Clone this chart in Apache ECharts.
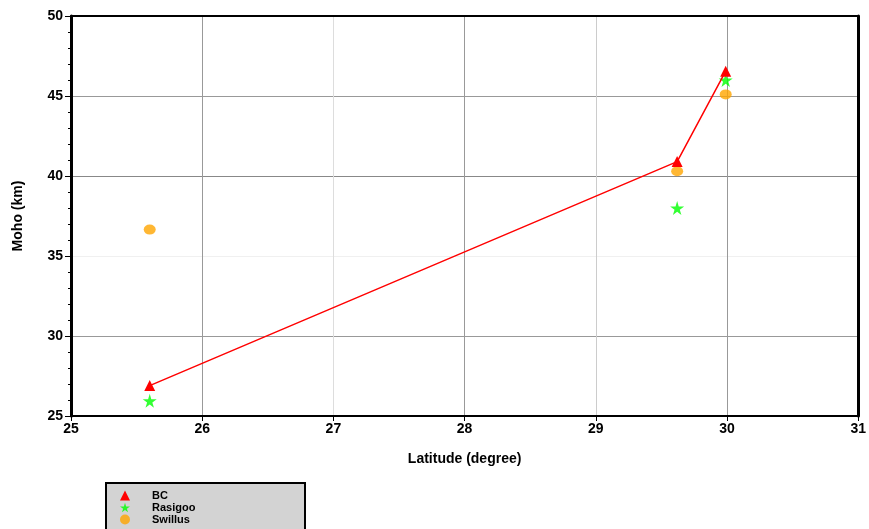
<!DOCTYPE html>
<html><head><meta charset="utf-8">
<script src="https://cdn.jsdelivr.net/npm/echarts@6/dist/echarts.min.js"></script>
<style>html,body{margin:0;padding:0;background:#fff}#c{width:869px;height:529px}</style>
</head><body><div id="c"></div>
<script>
const latitudes = [25.6, 29.62, 29.99];
const bcMoho = [26.9, 40.9, 46.55];
const rasigooMoho = [25.95, 38.0, 46.0];
const swillusMoho = [36.65, 40.3, 45.1];
const xTicks = [25, 26, 27, 28, 29, 30, 31];
const yTicks = [25, 30, 35, 40, 45, 50];

const pair = (xs, ys) => xs.map((x, i) => [x, ys[i]]);
const font = 'Liberation Sans';
const starPath = 'path://M50,0 L61,35 L98,35 L68,57 L79,91 L50,70 L21,91 L32,57 L2,35 L39,35 Z';
const chart = echarts.init(document.getElementById('c'));
chart.setOption({
  animation: false,
  grid: {left: 71, right: 8, top: 16, bottom: 113},
  graphic: [{
    type: 'rect', left: 105, top: 482, z: 0,
    shape: {width: 199, height: 60},
    style: {fill: '#d3d3d3', stroke: '#000', lineWidth: 2}
  }],
  legend: {
    orient: 'vertical', left: 120, top: 490, height: 60, width: 180,
    itemGap: 1, itemWidth: 10, itemHeight: 10, padding: 0,
    textStyle: {fontFamily: font, fontWeight: 'bold', fontSize: 11, color: '#000', padding: [0,0,0,17]},
    data: [{name: 'BC', icon: 'triangle'}, {name: 'Rasigoo', icon: starPath}, {name: 'Swillus', icon: 'circle'}]
  },
  xAxis: [{
    type: 'value', min: xTicks[0], max: xTicks[xTicks.length-1], interval: 1,
    name: 'Latitude (degree)', nameLocation: 'middle', nameGap: 36,
    nameTextStyle: {fontFamily: font, fontWeight: 'bold', fontSize: 14, color: '#000'},
    axisLine: {lineStyle: {color: '#000', width: 2}},
    axisTick: {length: 5, lineStyle: {color: '#000'}},
    axisLabel: {fontFamily: font, fontWeight: 'bold', fontSize: 14, color: '#000', margin: 6},
    splitLine: {show: true, lineStyle: {color: ['#999','#999','#ddd','#999','#ccc','#999','#999'], width: 1}}
  }, {
    type: 'value', position: 'top', min: 25, max: 31, interval: 1,
    axisLine: {lineStyle: {color: '#000', width: 2}},
    axisTick: {show: false}, axisLabel: {show: false}, splitLine: {show: false}
  }],
  yAxis: [{
    type: 'value', min: yTicks[0], max: yTicks[yTicks.length-1], interval: 5,
    name: 'Moho (km)', nameLocation: 'middle', nameGap: 46,
    nameTextStyle: {fontFamily: font, fontWeight: 'bold', fontSize: 14, color: '#000'},
    axisLine: {lineStyle: {color: '#000', width: 3}},
    axisTick: {length: 6, lineStyle: {color: '#000'}},
    minorTick: {show: true, splitNumber: 5, length: 3, lineStyle: {color: '#000'}},
    axisLabel: {fontFamily: font, fontWeight: 'bold', fontSize: 14, color: '#000', margin: 8},
    splitLine: {show: true, lineStyle: {color: ['#999','#999','#f0f0f0','#888','#999','#999'], width: 1}}
  }, {
    type: 'value', position: 'right', min: 25, max: 50, interval: 5,
    axisLine: {lineStyle: {color: '#000', width: 3}},
    axisTick: {show: false}, axisLabel: {show: false}, splitLine: {show: false}
  }],
  series: [
    {name: 'BC', type: 'line', data: pair(latitudes, bcMoho), symbol: 'triangle', symbolSize: 11,
     itemStyle: {color: '#ff0000'}, lineStyle: {color: '#ff0000', width: 1.5}, z: 5},
    {name: 'Rasigoo', type: 'scatter', data: pair(latitudes, rasigooMoho), symbol: starPath, symbolSize: 14,
     itemStyle: {color: '#00ff00'}, z: 4},
    {name: 'Swillus', type: 'scatter', data: pair(latitudes, swillusMoho), symbol: 'circle', symbolSize: [12, 10],
     itemStyle: {color: '#ffa500'}, z: 3}
  ]
});
</script></body></html>
